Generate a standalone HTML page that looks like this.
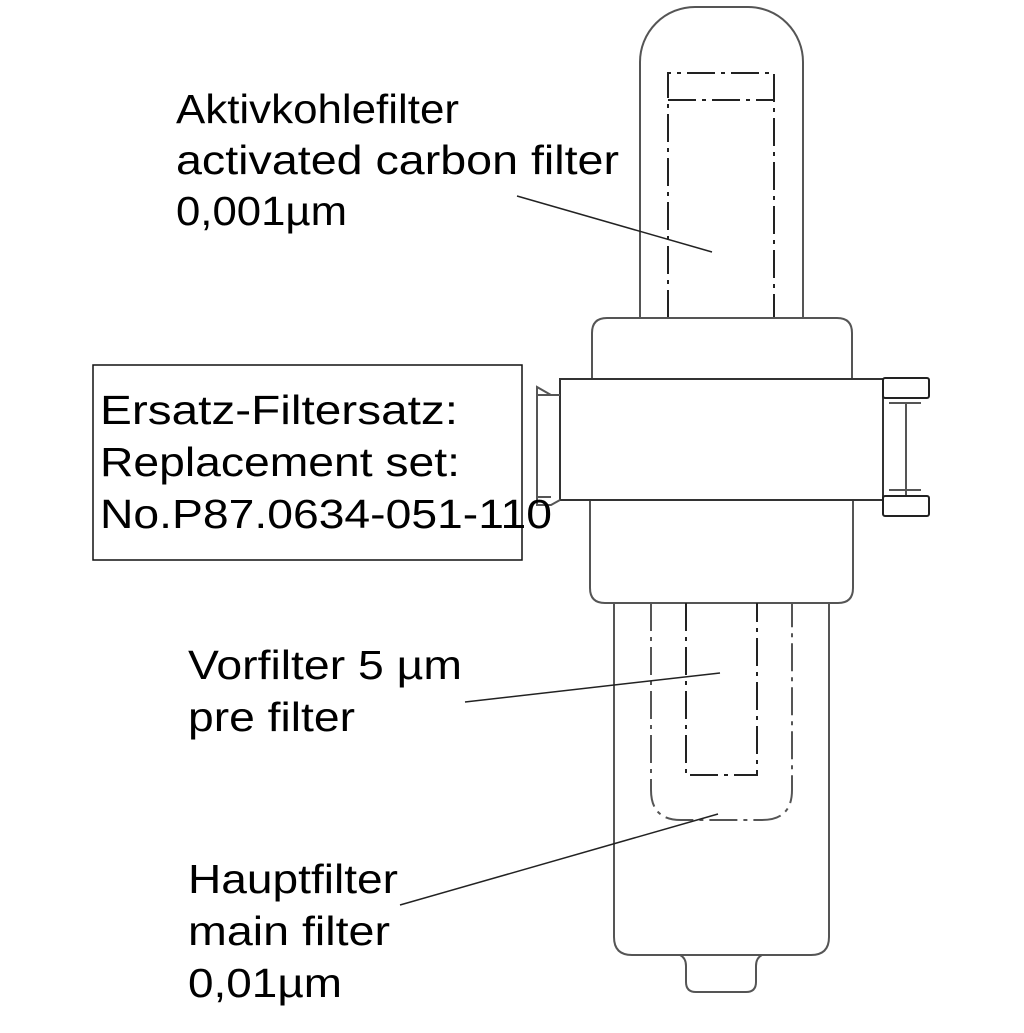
<!DOCTYPE html>
<html><head><meta charset="utf-8"><style>
html,body{margin:0;padding:0;background:#fff;}
svg{display:block;}
text{font-family:"Liberation Sans",Arial,sans-serif;font-size:41px;fill:#000;}
</style></head><body>
<svg width="1024" height="1033" viewBox="0 0 1024 1033" xmlns="http://www.w3.org/2000/svg">
<g fill="none" stroke="#555" stroke-width="2">
<path d="M640,318 V62 A55,55 0 0 1 695,7 H748 A55,55 0 0 1 803,62 V318"/>
<path d="M668,318 V73 H774 V318 M668,100 H774" stroke="#222" stroke-dasharray="28,6,4,6"/>
<path d="M592,379 V333 Q592,318 607,318 H837 Q852,318 852,333 V379"/>
<path d="M590,500 V588 Q590,603 605,603 H838 Q853,603 853,588 V500"/>
<rect x="560" y="379" width="323" height="121" stroke="#333"/>
<path d="M560,395 H551 L537,387 V505 H551 L560,500 M537,395 H551 M537,497 H551"/>
<rect x="883" y="378" width="46" height="20" rx="2" stroke="#222"/>
<rect x="883" y="496" width="46" height="20" rx="2" stroke="#222"/>
<path d="M906,403 V495 M889,403 H921 M889,490 H921"/>
<path d="M614,603 V937 Q614,955 632,955 H811 Q829,955 829,937 V603"/>
<path d="M680,955 Q686,958 686,966 V982 Q686,992 696,992 H746 Q756,992 756,982 V966 Q756,958 762,955"/>
<path d="M651,603 V790 Q651,820 681,820 H762 Q792,820 792,790 V603" stroke-dasharray="28,6,4,6"/>
<path d="M686,603 V775 H757 V603" stroke="#222" stroke-dasharray="28,6,4,6"/>
</g>
<rect x="93" y="365" width="429" height="195" fill="none" stroke="#111" stroke-width="1.5"/>
<g stroke="#222" stroke-width="1.5">
<line x1="517" y1="196" x2="712" y2="252"/>
<line x1="465" y1="702" x2="720" y2="673"/>
<line x1="400" y1="905" x2="718" y2="814"/>
</g>
<text x="176" y="123" textLength="283" lengthAdjust="spacingAndGlyphs">Aktivkohlefilter</text>
<text x="176" y="174" textLength="443" lengthAdjust="spacingAndGlyphs">activated carbon filter</text>
<text x="176" y="225" textLength="171" lengthAdjust="spacingAndGlyphs">0,001µm</text>
<text x="100" y="424" textLength="358" lengthAdjust="spacingAndGlyphs">Ersatz-Filtersatz:</text>
<text x="100" y="476" textLength="360" lengthAdjust="spacingAndGlyphs">Replacement set:</text>
<text x="100" y="528" textLength="452" lengthAdjust="spacingAndGlyphs">No.P87.0634-051-110</text>
<text x="188" y="679" textLength="274" lengthAdjust="spacingAndGlyphs">Vorfilter 5 µm</text>
<text x="188" y="731" textLength="167" lengthAdjust="spacingAndGlyphs">pre filter</text>
<text x="188" y="893" textLength="210" lengthAdjust="spacingAndGlyphs">Hauptfilter</text>
<text x="188" y="945" textLength="202" lengthAdjust="spacingAndGlyphs">main filter</text>
<text x="188" y="997" textLength="154" lengthAdjust="spacingAndGlyphs">0,01µm</text>
</svg>
</body></html>
